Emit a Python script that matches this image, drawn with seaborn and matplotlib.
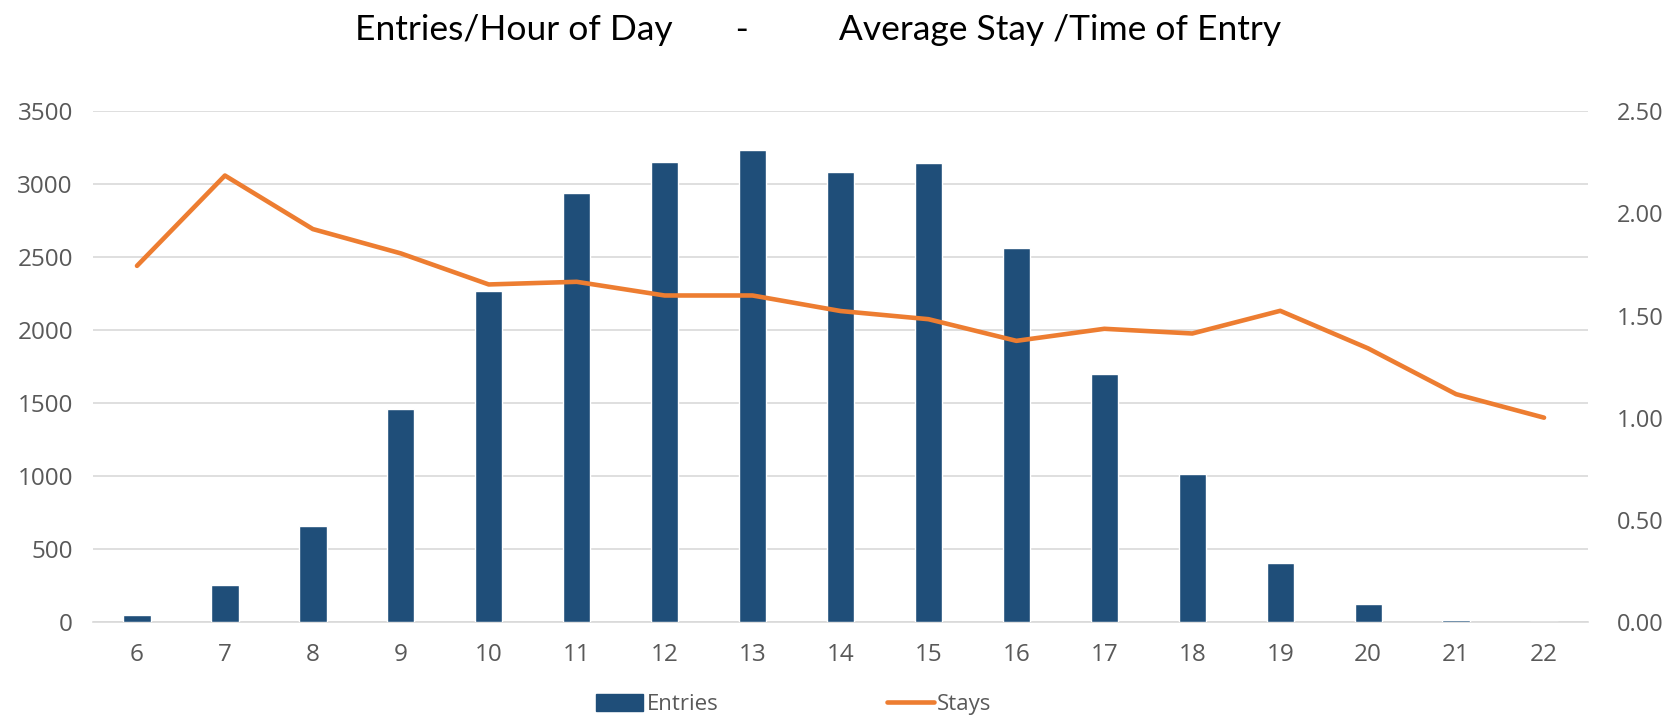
import matplotlib
matplotlib.use("Agg")
import matplotlib.pyplot as plt
import seaborn as sns
import pandas as pd
from matplotlib.patches import Patch
from matplotlib.lines import Line2D

hours = [6, 7, 8, 9, 10, 11, 12, 13, 14, 15, 16, 17, 18, 19, 20, 21, 22]
entries = [46, 255, 658, 1461, 2269, 2941, 3155, 3237, 3082, 3142, 2561, 1699, 1016, 406, 123, 12, 0]
stays = [1.743, 2.185, 1.923, 1.804, 1.652, 1.665, 1.598, 1.598, 1.522, 1.482,
         1.376, 1.435, 1.412, 1.523, 1.339, 1.115, 1.000]
left_ticks = [0, 500, 1000, 1500, 2000, 2500, 3000, 3500]
right_ticks = [0.0, 0.5, 1.0, 1.5, 2.0, 2.5]
title = "Entries/Hour of Day       -          Average Stay /Time of Entry"

df = pd.DataFrame({"hour": [str(h) for h in hours], "entries": entries, "stays": stays})

sns.set_theme(style="white")
plt.rcParams["font.family"] = ["Open Sans", "DejaVu Sans"]

bar_color = "#1f4e79"
line_color = "#ed7d31"
text_color = "#595959"
grid_color = "#d9d9d9"
tick_fs = 17.5

fig = plt.figure(figsize=(16.73, 7.22), dpi=100)
ax = fig.add_axes([0.0556, 0.1385, 0.8936, 0.7075])

sns.barplot(data=df, x="hour", y="entries", color=bar_color, width=0.31,
            saturation=1, ax=ax, zorder=3)
ax.set_ylim(0, 3500)
ax.set_yticks(left_ticks)
ax.set_xlim(-0.5, len(hours) - 0.5)
ax.yaxis.grid(True, color=grid_color, linewidth=1.2, zorder=0)
ax.set_axisbelow(True)
for s in ["top", "right", "left"]:
    ax.spines[s].set_visible(False)
ax.spines["bottom"].set_color(grid_color)
ax.spines["bottom"].set_linewidth(1.2)
ax.set_xlabel("")
ax.set_ylabel("")
ax.tick_params(axis="both", length=0, labelsize=tick_fs, colors=text_color)
ax.tick_params(axis="y", pad=14.5)
ax.tick_params(axis="x", pad=15)

ax2 = ax.twinx()
sns.pointplot(data=df, x="hour", y="stays", color=line_color, markers="",
              linewidth=3.3, ax=ax2, errorbar=None)
for ln in ax2.lines:
    ln.set_solid_capstyle("round")
    ln.set_solid_joinstyle("round")
ax2.set_ylim(0, 2.5)
ax2.set_yticks(right_ticks)
ax2.set_yticklabels([f"{v:.2f}" for v in right_ticks])
ax2.set_xlim(-0.5, len(hours) - 0.5)
for s in ["top", "right", "left", "bottom"]:
    ax2.spines[s].set_visible(False)
ax2.set_xlabel("")
ax2.set_ylabel("")
ax2.grid(False)
ax2.tick_params(axis="y", length=0, labelsize=17, colors=text_color, pad=21)

fig.text(0.489, 0.958, title, ha="center", va="center", fontsize=25.5,
         color="#000000", family=["Lato", "DejaVu Sans"])

handles = [Patch(facecolor=bar_color, edgecolor=bar_color),
           Line2D([0], [0], color=line_color, linewidth=3.3, solid_capstyle="round")]
fig.legend(handles, ["Entries", "Stays"], loc="center", bbox_to_anchor=(0.4746, 0.024),
           ncol=2, frameon=False, fontsize=16, labelcolor=text_color,
           handlelength=2.1, handleheight=0.75, handletextpad=0.15, columnspacing=7.6)

fig.savefig("out.png", dpi=100)
